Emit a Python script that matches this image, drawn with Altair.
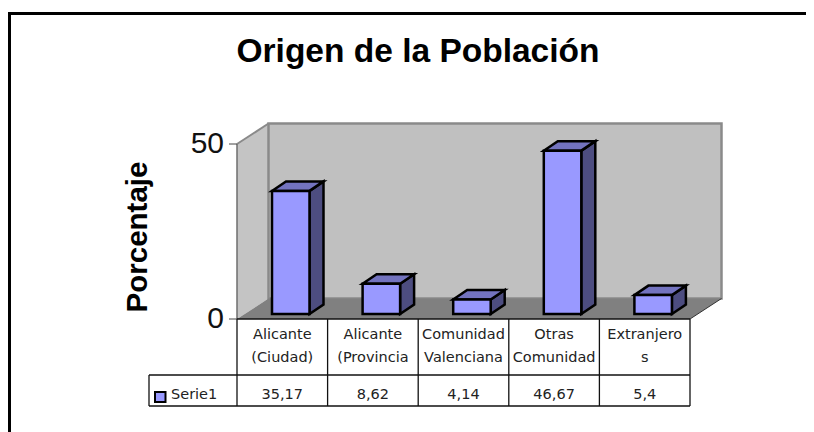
import altair as alt
import pandas as pd

# ---- chart values ----
line1 = ["Alicante", "Alicante", "Comunidad", "Otras", "Extranjero"]
line2 = ["(Ciudad)", "(Provincia", "Valenciana", "Comunidad", "s"]
values = [35.17, 8.62, 4.14, 46.67, 5.4]
labels = ["35,17", "8,62", "4,14", "46,67", "5,4"]
series_name = "Serie1"
title_text = "Origen de la Población"
y_title = "Porcentaje"

# ---- geometry of the pseudo-3D scene, in scale units ----
W, H = 798, 424
PX_PER_CAT = 90.6
PX_PER_VAL = 3.5
ORIGIN_X, ORIGIN_Y = 237 - 8, 319 - 8


def ux(page_x):
    return (page_x - 8 - ORIGIN_X) / PX_PER_CAT


def uy(page_y):
    return (ORIGIN_Y - (page_y - 8)) / PX_PER_VAL


xs = alt.Scale(domain=[ux(8), ux(8 + W)], range=[0, W], nice=False, zero=False)
ys = alt.Scale(domain=[uy(8 + H), uy(8)], range=[H, 0], nice=False, zero=False)
X = alt.X("x:Q", scale=xs, axis=None)
Y = alt.Y("y:Q", scale=ys, axis=None)

wall_dx = 31.5 / PX_PER_CAT
wall_dy = 20.5 / PX_PER_VAL
bar_dx = 14 / PX_PER_CAT
bar_dy = 9.5 / PX_PER_VAL
bar_w = 37.5 / PX_PER_CAT
bar_inset = 35 / PX_PER_CAT
bar_base = 5 / PX_PER_VAL
y_max = 50

front, side, top = [], [], []
for i, v in enumerate(values):
    l = i + bar_inset
    r = l + bar_w
    t = bar_base + v
    b = bar_base
    front.append({"x": l, "x2": r, "y": b, "y2": t})
    side += [
        {"bar": i, "x": r, "y": b, "y2": t},
        {"bar": i, "x": r + bar_dx, "y": b + bar_dy, "y2": t + bar_dy},
    ]
    top += [
        {"bar": i, "x": l, "y": t, "y2": t},
        {"bar": i, "x": l + bar_dx, "y": t, "y2": t + bar_dy},
        {"bar": i, "x": r, "y": t, "y2": t + bar_dy},
        {"bar": i, "x": r + bar_dx, "y": t + bar_dy, "y2": t + bar_dy},
    ]
n = len(values)

floor = [
    {"x": 0, "y": 0, "y2": 0},
    {"x": wall_dx, "y": 0, "y2": wall_dy},
    {"x": n, "y": 0, "y2": wall_dy},
    {"x": n + wall_dx, "y": wall_dy, "y2": wall_dy},
]
left_wall = [
    {"x": 0, "y": 0, "y2": y_max},
    {"x": wall_dx, "y": wall_dy, "y2": y_max + wall_dy},
]
back_wall = [{"x": wall_dx, "x2": n + wall_dx, "y": wall_dy, "y2": y_max + wall_dy}]


def rules(rows, color, width):
    return (
        alt.Chart(pd.DataFrame(rows, columns=["x", "x2", "y", "y2"]))
        .mark_rule(color=color, strokeWidth=width)
        .encode(x=X, x2="x2:Q", y=Y, y2="y2:Q")
    )


def text(rows, **kw):
    return (
        alt.Chart(pd.DataFrame(rows, columns=["x", "y", "t"]))
        .mark_text(**kw)
        .encode(x=X, y=Y, text="t:N")
    )


def area(rows, fill, **kw):
    enc = dict(x=X, y=Y, y2="y2:Q")
    if rows and "bar" in rows[0]:
        enc["detail"] = "bar:N"
    return alt.Chart(pd.DataFrame(rows)).mark_area(fill=fill, opacity=1, **kw).encode(**enc)


def rects(rows, fill, **kw):
    return (
        alt.Chart(pd.DataFrame(rows))
        .mark_rect(fill=fill, **kw)
        .encode(x=X, x2="x2:Q", y=Y, y2="y2:Q")
    )


LBL = dict(font="DejaVu Sans", fontSize=14.5, color="#222222", baseline="middle", align="center")
row_line1, row_line2, row_val = uy(335), uy(358), uy(394.5)
row_top, row_mid, row_bot = 0, uy(375), uy(406)
table_left = ux(149)

layers = [
    # frame
    rules([[ux(8), ux(8 + W), uy(13.5), uy(13.5)]], "#000000", 3),
    rules([[ux(9.5), ux(9.5), uy(12), uy(8 + H)]], "#000000", 3),
    # walls and floor
    area(left_wall, "#C4C4C4"),
    rects(back_wall, "#C0C0C0", stroke="#8A8A8A", strokeWidth=2.5),
    area(floor, "#808080"),
    rules([[0, wall_dx, y_max, y_max + wall_dy]], "#8A8A8A", 2),
    rules([[0, 0, 0, y_max]], "#6E6E6E", 1.5),
    rules([[n, n + wall_dx, 0, wall_dy]], "#333333", 1),
    # bars
    area(side, "#4D4D80", stroke="#000000", strokeWidth=2.5),
    area(top, "#7373BF", stroke="#000000", strokeWidth=2.5),
    rects(front, "#9999FF", stroke="#000000", strokeWidth=2.5),
    # ticks
    rules([[ux(229), 0, y_max, y_max], [ux(229), 0, 0, 0]], "#444444", 1),
    # table
    rules(
        [[0, n, row_top, row_top], [table_left, n, row_mid, row_mid], [table_left, n, row_bot, row_bot]],
        "#111111",
        1.3,
    ),
    rules([[i, i, row_top, row_bot] for i in range(n + 1)], "#111111", 1.3),
    rules([[table_left, table_left, row_mid, row_bot]], "#111111", 1.3),
    text([[i + 0.5, row_line1, t] for i, t in enumerate(line1)], **LBL),
    text([[i + 0.5, row_line2, t] for i, t in enumerate(line2)], **LBL),
    text([[i + 0.5, row_val, t] for i, t in enumerate(labels)], **LBL),
    # legend key inside the table
    rects(
        [{"x": ux(155), "x2": ux(165.5), "y": uy(402), "y2": uy(392)}],
        "#9999FF",
        stroke="#000000",
        strokeWidth=2,
    ),
    text([[ux(171), row_val, series_name]], **{**LBL, "align": "left"}),
    # value axis labels
    text(
        [[ux(224), y_max, "50"], [ux(224), 0, "0"]],
        font="Liberation Sans",
        fontSize=30,
        color="#111111",
        align="right",
        baseline="middle",
    ),
    # titles
    text(
        [[ux(418), uy(52), title_text]],
        font="Liberation Sans",
        fontSize=33.5,
        fontWeight="bold",
        color="#000000",
        align="center",
        baseline="middle",
    ),
    text(
        [[ux(138), uy(237), y_title]],
        font="Liberation Sans",
        fontSize=29.5,
        fontWeight="bold",
        color="#000000",
        angle=270,
        align="center",
        baseline="middle",
    ),
]

chart = (
    alt.layer(*layers)
    .properties(width=W, height=H, padding=0, background="#FFFFFF", autosize=alt.AutoSizeParams(type="none"))
    .configure_view(stroke=None)
)

chart.save("out.html", embed_options={"renderer": "svg", "actions": False})
